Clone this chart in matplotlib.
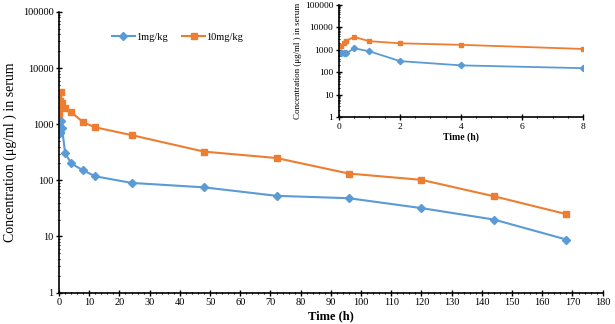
import matplotlib.pyplot as plt
from matplotlib.ticker import MultipleLocator, LogLocator, NullFormatter, FixedFormatter, FixedLocator

plt.rcParams['font.family'] = ['Liberation Serif', 'DejaVu Serif']

# sampling times (h) and serum concentrations
time_h = [0.083, 0.167, 0.25, 0.5, 1, 2, 4, 8, 12, 24, 48, 72, 96, 120, 144, 168]
conc_1mg = [740, 740, 700, 1150, 850, 310, 200, 150, 118, 90, 75, 53, 48, 32, 20, 8.8]
conc_10mg = [1520, 2000, 2560, 3700, 2400, 1930, 1650, 1080, 880, 640, 325, 250, 132, 102, 52, 25]
labels = ['1mg/kg', '10mg/kg']
colors = ['#5B9BD5', '#ED7D31']
markers = ['D', 's']

y_ticks = [1, 10, 100, 1000, 10000, 100000]
y_ticklabels = ['1', '10', '100', '1000', '10000', '100000']

fig = plt.figure(figsize=(6.15, 3.24), dpi=100)


def style_axes(ax, xmax, xmajor, xminor, fs):
    ax.set_yscale('log')
    ax.set_ylim(1, 100000)
    ax.set_xlim(0, xmax)
    ax.yaxis.set_major_locator(FixedLocator(y_ticks))
    ax.yaxis.set_major_formatter(FixedFormatter(y_ticklabels))
    ax.yaxis.set_minor_locator(LogLocator(base=10, subs=range(2, 10), numticks=20))
    ax.yaxis.set_minor_formatter(NullFormatter())
    ax.xaxis.set_major_locator(MultipleLocator(xmajor))
    ax.xaxis.set_minor_locator(MultipleLocator(xminor))
    for s in ['top', 'right']:
        ax.spines[s].set_visible(False)
    for s in ['left', 'bottom']:
        ax.spines[s].set_linewidth(1.2)
    ax.tick_params(which='major', direction='inout', length=4, width=1, labelsize=fs, pad=2)
    ax.tick_params(which='minor', direction='inout', length=2, width=0.8)


# main chart
ax = fig.add_axes([0.096, 0.097, 0.884, 0.866])
for y, lab, c, m in zip([conc_1mg, conc_10mg], labels, colors, markers):
    ax.plot(time_h, y, color=c, marker=m, markersize=3.8, linewidth=1.5, label=lab)
style_axes(ax, 180, 10, 2, 7.5)
ax.set_xlabel('Time (h)', fontsize=9, fontweight='bold', labelpad=2)
ax.set_ylabel('Concentration (\u03bcg/ml ) in serum', fontsize=10, labelpad=4)
ax.legend(loc='upper left', bbox_to_anchor=(0.08, 0.96), ncol=2, frameon=False,
          fontsize=7.5, handlelength=2.2, columnspacing=1.4, handletextpad=0.1)

# inset (first 8 h)
ins = fig.add_axes([0.551, 0.639, 0.397, 0.346])
ins.patch.set_facecolor('white')
for y, lab, c, m in zip([conc_1mg, conc_10mg], labels, colors, markers):
    ins.plot(time_h[:8], y[:8], color=c, marker=m, markersize=3.2, linewidth=1.3)
style_axes(ins, 8, 2, 0.5, 6.8)
ins.set_xlabel('Time (h)', fontsize=7, fontweight='bold', labelpad=1)
ins.set_ylabel('Concentration (\u03bcg/ml ) in serum', fontsize=6.5, labelpad=2)

fig.savefig('out.png', dpi=100)
